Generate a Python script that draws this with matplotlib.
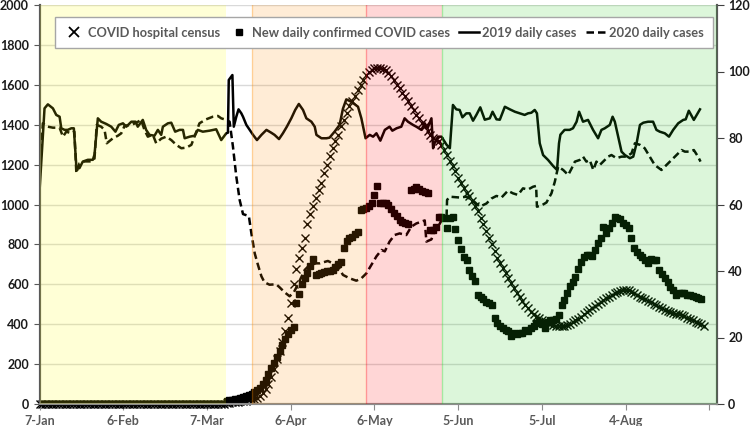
import pandas as pd
import matplotlib
matplotlib.use("Agg")
import matplotlib.pyplot as plt
from matplotlib.lines import Line2D

plt.rcParams['font.family'] = ['Lato', 'DejaVu Sans']
plt.rcParams['font.weight'] = 'bold'

start = pd.Timestamp("2020-01-07")

# 2019 daily cases (left axis): day offset from 7-Jan, value
d2019 = [0, 1.8, 3, 4.8, 6, 7.2, 7.8, 9, 10.1, 11.4,
         12.3, 13.2, 14.3, 15.5, 17.3, 19.1, 19.7, 20.9, 22.1, 23.9,
         25.7, 27.2, 28.4, 29.9, 31.1, 32.9, 34.4, 35.2, 37, 38.2,
         39.4, 41.2, 42.4, 43.6, 44.2, 46, 47.2, 48.6, 50.2, 51.4,
         52, 53.8, 55.6, 56.7, 58.5, 60.9, 63.3, 65.1, 66.9, 67.5,
         67.8, 69.1, 69.6, 70.5, 71.3, 72.3, 72.9, 74.1, 75.3, 76.5,
         77.9, 79.5, 81.3, 83, 84.2, 85.8, 87.2, 88.6, 90.2, 91.6,
         92.9, 94.4, 95.6, 97.4, 98.6, 99.2, 101, 102.8, 103.9, 105.7,
         107.5, 108.7, 109.9, 111.7, 114.1, 115.3, 116.8, 118.3, 119.5, 120.7,
         122.1, 123.7, 125.4, 126.4, 127.9, 129.6, 130.8, 132, 133.8, 135,
         136.8, 138, 139, 140.4, 141, 141.6, 142.8, 144, 145.8, 147,
         148.1, 149.3, 150.5, 151.5, 152.9, 154.1, 155.3, 156.5, 157.9, 159.5,
         161.3, 162.3, 163.7, 164.9, 166.7, 168.5, 170.3, 172, 173.8, 175,
         176.2, 177.4, 178.2, 179.2, 180.4, 182.2, 184, 185.4, 186.1, 186.6,
         188.1, 189.9, 191.1, 192.4, 193.3, 194.7, 196.5, 198.3, 200.1, 201.3,
         202.5, 204.3, 205.3, 206.1, 207.3, 208.5, 209.7, 211.5, 212.7, 213.9,
         215.1, 216.3, 218, 219.8, 221, 222.2, 224, 225.5, 227, 228.8,
         230.6, 231.5, 232.6, 234.4, 236.6]
v2019 = [1064, 1482, 1502, 1482, 1449, 1440, 1382, 1374, 1374, 1382,
         1382, 1190, 1182, 1215, 1224, 1224, 1250, 1432, 1415, 1404,
         1390, 1365, 1399, 1407, 1390, 1415, 1415, 1390, 1424, 1374,
         1349, 1345, 1374, 1349, 1390, 1407, 1410, 1365, 1374, 1374,
         1332, 1340, 1345, 1374, 1365, 1370, 1377, 1323, 1357, 1360,
         1624, 1649, 1390, 1440, 1477, 1457, 1440, 1399, 1374, 1349,
         1323, 1349, 1374, 1360, 1349, 1328, 1357, 1390, 1432, 1474,
         1504, 1474, 1432, 1415, 1390, 1349, 1332, 1332, 1335, 1365,
         1399, 1480, 1527, 1515, 1490, 1432, 1332, 1349, 1340, 1357,
         1320, 1374, 1390, 1370, 1382, 1390, 1432, 1415, 1399, 1390,
         1374, 1407, 1382, 1432, 1282, 1310, 1340, 1340, 1300, 1282,
         1499, 1477, 1474, 1437, 1457, 1457, 1420, 1449, 1487, 1425,
         1432, 1465, 1427, 1425, 1490, 1477, 1465, 1457, 1449, 1457,
         1460, 1474, 1457, 1307, 1248, 1223, 1193, 1173, 1307, 1350,
         1374, 1374, 1382, 1415, 1465, 1415, 1424, 1374, 1332, 1374,
         1382, 1399, 1440, 1415, 1340, 1265, 1248, 1232, 1240, 1307,
         1399, 1410, 1415, 1415, 1374, 1365, 1357, 1340, 1374, 1407,
         1424, 1427, 1470, 1424, 1477]

# 2020 daily cases (left axis)
d2020 = [0, 1.2, 3, 4.8, 7.2, 8.4, 9.6, 11.4, 12.5, 13.2,
         14.3, 16.1, 18.5, 19.7, 20.5, 22.1, 23.3, 24.1, 26.3, 28.1,
         29.3, 30.5, 32.9, 34.7, 36.4, 37.6, 38.8, 40.6, 41.8, 43.6,
         45.4, 47.2, 49, 50.8, 52.6, 54.4, 56.2, 57.3, 59.7, 62.1,
         63.9, 65.1, 66.9, 68.1, 69.3, 70.5, 71.7, 72.9, 75, 75.9,
         77.1, 78.2, 79.5, 80.6, 82.4, 84.8, 86, 87.8, 89.6, 91.1,
         92.6, 95, 96.8, 99.2, 100.4, 103.3, 105.1, 106.9, 108.7, 111.1,
         113.5, 115.3, 117.1, 118.9, 120.7, 122.5, 123.7, 125.4, 127.2, 129,
         131.4, 133.2, 135, 136.8, 138, 138.6, 140.4, 141.6, 142.8, 144,
         145.2, 145.8, 146, 147, 150.5, 152.9, 155.3, 157.7, 160.1, 161.9,
         163.7, 165.5, 167.8, 169.6, 171.4, 173.2, 175, 176.8, 177.9, 178.2,
         179.8, 181.6, 183.4, 184.6, 185.8, 187.6, 189.4, 190.6, 191.8, 193.5,
         194.7, 195.9, 197.1, 198.4, 199.5, 200.7, 202.5, 203.7, 204.9, 206.7,
         208.5, 210.3, 212.1, 213.3, 215.1, 216.8, 218.6, 220.4, 222.8, 224.6,
         226.4, 228.2, 230, 231.2, 233, 234.4, 235.9, 236.8]
v2020 = [1150, 1407, 1390, 1385, 1385, 1340, 1365, 1357, 1365, 1157,
         1206, 1216, 1216, 1230, 1399, 1390, 1374, 1307, 1332, 1345,
         1357, 1395, 1399, 1410, 1424, 1374, 1340, 1350, 1307, 1330,
         1340, 1323, 1299, 1282, 1285, 1299, 1365, 1407, 1427, 1440,
         1444, 1432, 1424, 1415, 1290, 1140, 1023, 952, 942, 856,
         755, 700, 640, 610, 598, 600, 585, 560, 540, 560,
         600, 672, 697, 705, 705, 717, 705, 690, 647, 630,
         618, 630, 655, 697, 740, 772, 765, 814, 847, 855,
         847, 889, 905, 914, 920, 814, 825, 872, 889, 920,
         925, 930, 1023, 1039, 1035, 1039, 1020, 989, 1005, 1030,
         1043, 1035, 1069, 1056, 1048, 1081, 1075, 1089, 1093, 989,
         995, 1010, 1056, 1114, 1190, 1173, 1148, 1180, 1215, 1223,
         1240, 1215, 1223, 1173, 1215, 1198, 1223, 1240, 1248, 1232,
         1240, 1240, 1257, 1307, 1299, 1282, 1240, 1198, 1173, 1198,
         1223, 1248, 1273, 1265, 1265, 1273, 1240, 1215]

# COVID hospital census (right axis), one value per day from 7-Jan
census = [0] * 67 + [
    0.3, 0.4, 0.5, 0.6, 0.7, 0.8, 0.9, 1.0, 1.1, 1.2,
    1.4, 1.8, 2.3, 3.2, 4.4, 6.0, 8.2, 10.5, 13.5, 16.0,
    18.5, 22.0, 25.8, 30.5, 36.0, 40.5, 44.0, 47.0, 50.0, 54.0,
    57.0, 59.5, 62.0, 64.5, 66.5, 69.5, 72.0, 74.5, 77.0, 79.0,
    81.0, 83.5, 85.5, 87.5, 89.5, 91.0, 92.5, 94.5, 96.0, 97.5,
    99.0, 100.0, 100.5, 101.0, 101.0, 101.0, 100.8, 100.5, 99.5, 98.5,
    97.5, 96.0, 95.0, 93.5, 92.5, 91.0, 89.5, 88.5, 87.0, 86.0,
    84.5, 83.5, 82.0, 81.0, 80.0, 79.5, 79.0, 78.0, 76.5, 75.0,
    73.0, 71.5, 70.0, 68.0, 66.5, 65.0, 63.5, 62.5, 61.0, 59.5,
    58.0, 56.0, 54.0, 52.0, 50.0, 48.0, 46.0, 44.0, 42.5, 41.0,
    39.5, 38.0, 36.5, 35.0, 33.5, 32.3, 31.0, 29.8, 28.8, 27.8,
    27.0, 26.3, 25.8, 25.3, 24.9, 24.5, 24.1, 23.8, 23.6, 23.5,
    23.5, 23.6, 23.8, 24.2, 24.7, 25.2, 25.7, 26.3, 27.0, 27.6,
    28.2, 28.9, 29.6, 30.2, 30.8, 31.3, 31.8, 32.3, 32.8, 33.3,
    33.7, 34.1, 34.3, 34.4, 34.2, 33.8, 33.3, 32.8, 32.3, 31.9,
    31.5, 31.1, 30.6, 30.2, 29.8, 29.3, 28.8, 28.3, 27.9, 27.6,
    27.4, 27.2, 27.0, 26.7, 26.4, 26.0, 25.6, 25.2, 24.8, 24.4,
    24.0, 23.6]

# New daily confirmed COVID cases (left axis), one value per day from 7-Jan
new_cases = [0] * 67 + [
    15, 18, 21, 24, 27, 30, 34, 39, 45, 52,
    60, 70, 82, 100, 122, 150, 178, 205, 235, 268,
    295, 325, 350, 370, 387, 505, 550, 600, 630, 655,
    690, 725, 648, 650, 655, 660, 665, 668, 672, 688,
    700, 713, 780, 815, 830, 839, 850, 864, 972, 978,
    981, 990, 1006, 1048, 1093, 1006, 1010, 1006, 998, 975,
    956, 940, 922, 910, 906, 900, 1073, 1080, 1086, 1078,
    1070, 1065, 1056, 872, 872, 889, 939, 935, 931, 881,
    931, 939, 876, 822, 776, 739, 722, 672, 642, 618,
    546, 538, 525, 513, 505, 496, 430, 404, 390, 379,
    372, 367, 341, 354, 350, 354, 358, 371, 365, 380,
    392, 404, 413, 400, 379, 413, 420, 422, 425, 446,
    496, 521, 555, 592, 610, 638, 675, 713, 739, 747,
    747, 740, 772, 806, 831, 889, 856, 881, 909, 936,
    931, 925, 906, 897, 881, 831, 780, 760, 747, 739,
    722, 705, 725, 722, 722, 672, 650, 630, 613, 585,
    572, 546, 555, 555, 558, 546, 546, 540, 538, 530,
    525]

# shaded phases: day offsets from 7-Jan
phase_start = [0, 76.3, 116.8, 144.2]
phase_end = [66.7, 116.8, 144.2, 242.7]
phase_colors = ['#ffff00', '#ff8c00', '#ff0000', '#28c81e']

tick_days = [0, 30, 60, 90, 120, 150, 180, 210, 240]
x_end = 242.7


def to_dates(days):
    return start + pd.to_timedelta(days, unit='D')


fig = plt.figure(figsize=(7.5, 4.26), dpi=100)
ax = fig.add_axes([39.5 / 750, 1 - 404 / 426, 677.5 / 750, 399 / 426])
ax2 = ax.twinx()

ax.grid(axis='y', color='#d9d9d9', lw=1)
ax.set_axisbelow(True)

dash = (0, (3, 1.6))
ax.plot(to_dates(d2019), v2019, color='k', lw=1.8, zorder=2)
ax.plot(to_dates(d2020), v2020, color='k', lw=1.8, ls=dash, zorder=2)
ax.plot(to_dates(range(len(new_cases))), new_cases, ls='none', marker='s',
        ms=4.4, color='k', zorder=3)
ax2.plot(to_dates(range(len(census))), census, ls='none', marker='x',
         ms=5.3, mew=1.0, color='k', clip_on=False, zorder=2)

for i, (s, e, c) in enumerate(zip(phase_start, phase_end, phase_colors)):
    ax2.axvspan(to_dates(s), to_dates(e), facecolor=c, alpha=0.16, lw=0, zorder=3)
    if i > 0:
        ax2.axvline(to_dates(s), color=c, alpha=0.3, lw=1, zorder=3)

ax.set_xlim(to_dates(0), to_dates(x_end))
ax.set_ylim(0, 2000)
ax2.set_ylim(0, 120)
ax.set_yticks(range(0, 2001, 200))
ax2.set_yticks(range(0, 121, 20))
tick_dates = to_dates(tick_days)
ax.set_xticks(tick_dates)
ax.set_xticklabels([f"{t.day}-{t.strftime('%b')}" for t in tick_dates[:-1]] + [''])

for a in (ax, ax2):
    a.spines['top'].set_visible(False)
    a.spines['bottom'].set_color('#8c8c8c')
    a.spines['left'].set_color('#595959')
    a.spines['right'].set_color('#595959')
    for side in ('left', 'right', 'bottom'):
        a.spines[side].set_linewidth(1.5)

ax.tick_params(axis='y', direction='out', length=4, color='#595959',
               labelsize=9, labelcolor='#1a1a1a', pad=3.5)
ax2.tick_params(axis='y', direction='out', length=5, color='#404040',
                labelsize=9, labelcolor='#1a1a1a', pad=3)
ax.tick_params(axis='x', direction='out', length=4, color='#8c8c8c',
               labelsize=9, labelcolor='#595959', pad=4)

handles = [
    Line2D([], [], ls='none', marker='x', ms=7, mew=1.3, color='k'),
    Line2D([], [], ls='none', marker='s', ms=5, color='k'),
    Line2D([], [], color='k', lw=1.8),
    Line2D([], [], color='k', lw=1.8, ls=dash),
]
labels = ['COVID hospital census', 'New daily confirmed COVID cases',
          '2019 daily cases', '2020 daily cases']
leg = ax2.legend(handles, labels, loc='upper center', bbox_to_anchor=(0.5085, 0.970),
                 ncol=4, frameon=True, fancybox=False, framealpha=1,
                 edgecolor='#a6a6a6', fontsize=9.3, handlelength=1.55,
                 handletextpad=0.25, columnspacing=0.7, borderpad=0.75,
                 borderaxespad=0, labelcolor='#595959')
leg.get_frame().set_linewidth(1.0)
leg.set_zorder(10)

fig.savefig('out.png', dpi=100)
